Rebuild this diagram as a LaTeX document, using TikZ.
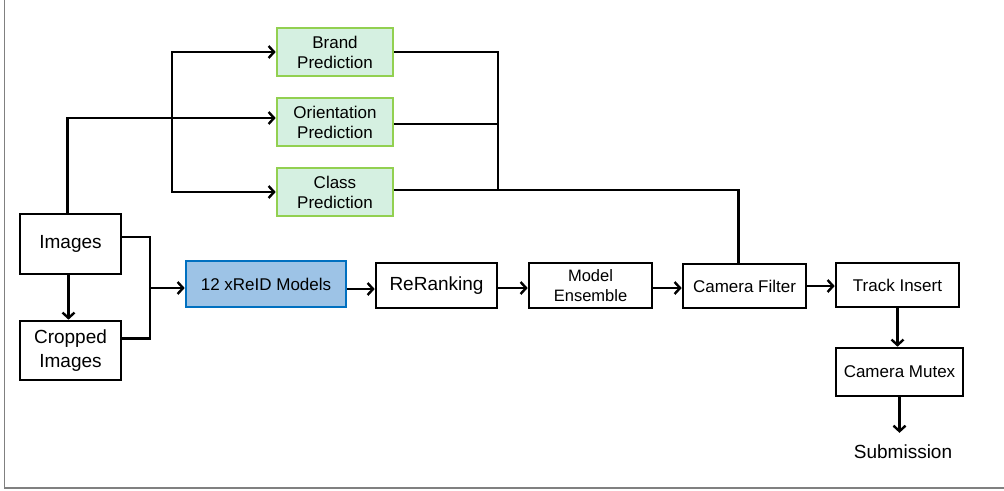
\documentclass[tikz,border=0pt]{standalone}
\usepackage{fontspec}
\setmainfont{Liberation Sans}
\usetikzlibrary{arrows.meta}
\definecolor{gborder}{HTML}{92D050}
\definecolor{gfill}{HTML}{D5F0E1}
\definecolor{bfill}{HTML}{9DC3E6}
\definecolor{bborder}{HTML}{0070C0}
\definecolor{framegray}{HTML}{808080}
\begin{document}
\begin{tikzpicture}[x=1pt,y=-1pt,
  box/.style={draw=black, line width=2.6pt, fill=white, inner sep=0pt, align=center},
  gbox/.style={box, draw=gborder, fill=gfill, minimum width=116pt, minimum height=48pt,
    font=\fontsize{17}{20}\selectfont},
  wire/.style={line width=2.4pt, line join=miter},
  arr/.style={wire, -{Straight Barb[length=5.5pt,width=12pt]}}]
\useasboundingbox (0,0) rectangle (1004,490);
\draw[framegray, line width=1.4pt] (4.5,0) -- (4.5,488) -- (1004,488);

\node[gbox] (brand)  at (335,52)  {Brand\\Prediction};
\node[gbox] (orient) at (335,122) {Orientation\\Prediction};
\node[gbox] (class)  at (335,192) {Class\\Prediction};

\node[box, minimum width=101pt, minimum height=60pt, font=\fontsize{19}{24}\selectfont] (images) at (70.5,244) {Images};
\node[box, minimum width=101pt, minimum height=59pt, font=\fontsize{19}{24}\selectfont] (cropped) at (70.5,350.5) {Cropped\\Images};

\node[box, draw=bborder, fill=bfill, minimum width=160pt, minimum height=46pt, font=\fontsize{17}{22}\selectfont] (xreid) at (266,284) {12 xReID Models};
\node[box, minimum width=121pt, minimum height=45pt, font=\fontsize{19}{24}\selectfont] (rerank) at (436.5,285.5) {ReRanking};
\node[box, minimum width=123pt, minimum height=45pt, font=\fontsize{16.5}{20.5}\selectfont] (ensemble) at (590.5,285.5) {Model\\Ensemble};
\node[box, minimum width=123pt, minimum height=44pt, font=\fontsize{17}{21}\selectfont] (camfilter) at (744.5,286) {Camera Filter};
\node[box, minimum width=123pt, minimum height=44pt, font=\fontsize{17}{21}\selectfont] (track) at (897.5,285) {Track Insert};
\node[box, minimum width=127pt, minimum height=48pt, font=\fontsize{17}{21}\selectfont] (mutex) at (899.5,372) {Camera Mutex};
\node[inner sep=2pt, font=\fontsize{19}{23}\selectfont] (sub) at (903,452) {Submission};

% inputs to predictions
\draw[arr] ([xshift=-3pt]images.north) |- ([yshift=4pt]orient.west);
\coordinate (j1) at (172,118);
\draw[arr] (j1) |- (brand.west);
\draw[arr] (j1) |- (class.west);

% predictions merge
\coordinate (j2) at (498,190);
\draw[wire] (brand.east) -| (j2);
\draw[wire] ([yshift=-2pt]orient.east) -- ([yshift=-2pt]orient.east -| j2);
\draw[wire] ([yshift=2pt]class.east) -| ([xshift=-6pt]camfilter.north);

% images to models
\coordinate (j3) at (150,288);
\draw[wire] ([yshift=7pt]images.east) -| (j3);
\draw[wire] ([yshift=12pt]cropped.east) -| (j3);
\draw[arr] (j3) -- (j3 -| xreid.west);
\draw[arr] ([xshift=-2pt]images.south) -- ([xshift=-2pt]cropped.north);

% main chain
\draw[arr] ([yshift=-5pt]xreid.east) -- ([yshift=-5pt]xreid.east -| rerank.west);
\draw[arr] ([yshift=-2.5pt]rerank.east) -- ([yshift=-2.5pt]rerank.east -| ensemble.west);
\draw[arr] ([yshift=-2.5pt]ensemble.east) -- ([yshift=-2.5pt]ensemble.east -| camfilter.west);
\draw[arr] (camfilter.east) -- (camfilter.east -| track.west);
\draw[arr] (track.south) -- (track.south |- mutex.north);
\draw[arr] (mutex.south) -- ([yshift=10pt]mutex.south |- sub.north);
\end{tikzpicture}
\end{document}
